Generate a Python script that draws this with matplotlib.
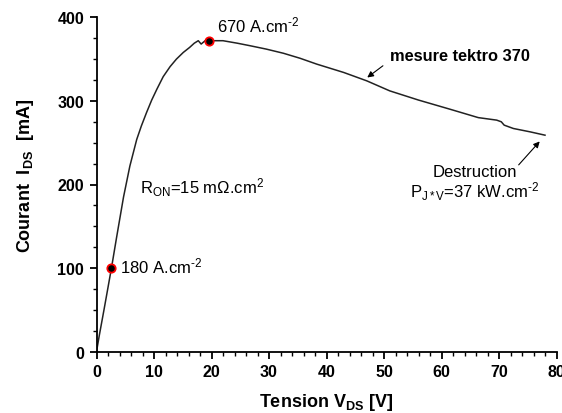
import matplotlib
matplotlib.use("Agg")
import matplotlib.pyplot as plt
from matplotlib.ticker import MultipleLocator

plt.rcParams['font.family'] = ['Liberation Sans', 'DejaVu Sans']
plt.rcParams['mathtext.fontset'] = 'custom'
plt.rcParams['mathtext.rm'] = 'Liberation Sans'
plt.rcParams['mathtext.it'] = 'Liberation Sans'
plt.rcParams['mathtext.bf'] = 'Liberation Sans:bold'

# Data
tension_v = [0, 0.5, 1.3, 1.9, 2.6, 3.5, 4.7, 5.8, 7.0, 7.8, 8.7, 9.6, 10.5, 11.6,
             12.8, 13.9, 15.1, 16.2, 17.0, 17.7, 18.2, 18.9, 19.6, 22.0, 24.5,
             26.7, 29.5, 32.5, 35.4, 38.3, 43.0, 47.0, 51.0, 56.0,
             61.5, 66.4, 69.6, 70.4, 70.9, 72.5, 75.4, 78.0]
courant_ma = [0, 20, 50, 73, 100, 137, 185, 222, 254, 270, 286, 301, 314, 329,
              341, 350, 358, 364, 369, 372, 368, 372, 372, 372, 369,
              366, 362, 357, 351, 344, 334, 324, 312, 301,
              290, 280, 277, 275, 271, 267, 263, 259]
marker_v = [2.6, 19.6]
marker_i = [100, 372]
x_ticks = [0, 10, 20, 30, 40, 50, 60, 70, 80]
y_ticks = [0, 100, 200, 300, 400]

fig = plt.figure(figsize=(5.62, 4.14), dpi=100)
ax = fig.add_axes([96.5/562, 1 - 352.7/414, (556.5-96.5)/562, (352.7-18.3)/414])

ax.plot(tension_v, courant_ma, color='#222222', lw=1.1, zorder=2)
ax.plot(marker_v, marker_i, 'o', ms=6, mfc='black', mec='red', mew=1.3, zorder=3)

ax.set_xlim(0, 80)
ax.set_ylim(0, 400)
ax.set_xticks(x_ticks)
ax.set_yticks(y_ticks)
ax.xaxis.set_minor_locator(MultipleLocator(2))
ax.yaxis.set_minor_locator(MultipleLocator(25))
for s in ['top', 'right']:
    ax.spines[s].set_visible(False)
for s in ['left', 'bottom']:
    ax.spines[s].set_linewidth(1.3)
ax.tick_params(which='major', direction='out', length=5, width=1.3, labelsize=11.5)
ax.tick_params(axis='x', which='major', pad=4)
ax.tick_params(axis='y', which='major', pad=4)
ax.tick_params(which='minor', direction='out', length=3, width=1.0)
for lab in ax.get_xticklabels() + ax.get_yticklabels():
    lab.set_fontweight('bold')

ax.set_xlabel(r'Tension V$_{\mathbf{DS}}$ [V]', fontsize=13, fontweight='bold')
ax.set_ylabel(r'Courant  I$_{\mathbf{DS}}$  [mA]', fontsize=13, fontweight='bold')
ax.xaxis.set_label_coords(0.5, -0.118)
ax.yaxis.set_label_coords(-0.155, 0.528)
ax.yaxis.label.set_va('center')

ax.text(4.0, 103, r'180 A.cm$^{\text{-}2}$', fontsize=12, va='center', ha='left')
ax.text(20.9, 392, r'670 A.cm$^{\text{-}2}$', fontsize=12, va='center', ha='left')
ax.text(7.6, 197, r'R$_{ON}$=15 m$\Omega$.cm$^{2}$', fontsize=12, va='center', ha='left')
ax.text(51, 354, 'mesure tektro 370', fontsize=11.8, fontweight='bold', va='center', ha='left')
ax.annotate('', xy=(46.7, 326), xytext=(50.2, 344),
            arrowprops=dict(arrowstyle='-|>', color='black', lw=0.8, mutation_scale=9))
ax.text(65.8, 215, 'Destruction', fontsize=12, va='center', ha='center')
ax.text(54.6, 192, r'P$_{J*V}$=37 kW.cm$^{\text{-}2}$', fontsize=12, va='center', ha='left')
ax.annotate('', xy=(77.4, 254), xytext=(73.1, 221),
            arrowprops=dict(arrowstyle='-|>', color='black', lw=0.8, mutation_scale=9))

fig.savefig('out.png', dpi=100)
